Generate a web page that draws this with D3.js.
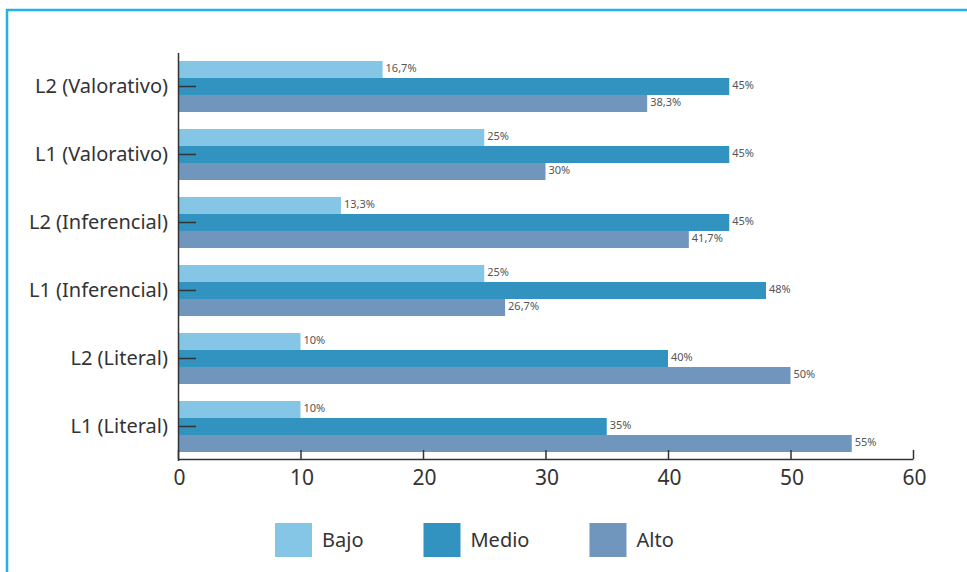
<!DOCTYPE html>
<html>
<head>
<meta charset="utf-8">
<script src="https://cdn.jsdelivr.net/npm/d3@7"></script>
<style>
  body { margin: 0; background: #fff; }
  svg { display: block; font-family: 'Noto Sans', 'Open Sans', sans-serif; }
</style>
</head>
<body>
<div id="chart"></div>
<script>
// data (top group first)
const categories = ['L2 (Valorativo)', 'L1 (Valorativo)', 'L2 (Inferencial)', 'L1 (Inferencial)', 'L2 (Literal)', 'L1 (Literal)']
const seriesNames = ['Bajo', 'Medio', 'Alto']
const bajo = [16.7, 25, 13.3, 25, 10, 10]
const medio = [45, 45, 45, 48, 40, 35]
const alto = [38.3, 30, 41.7, 26.7, 50, 55]
const xTicks = [0, 10, 20, 30, 40, 50, 60]
const colors = ['#85c5e5', '#3393c0', '#7096bd']

const width = 967
const height = 572

const svg = d3
  .select('#chart')
  .append('svg')
  .attr('width', width)
  .attr('height', height)

// light blue frame round the whole thing
svg
  .append('rect')
  .attr('x', 7)
  .attr('y', 10)
  .attr('width', 980)
  .attr('height', 600)
  .attr('fill', 'none')
  .attr('stroke', '#22b1ea')
  .attr('stroke-width', 2.5)

const rows = categories.map((c, i) => ({
  category: c,
  values: [bajo[i], medio[i], alto[i]]
}))

const xPositionScale = d3.scaleLinear().domain([0, 60]).range([178, 913])

const yGroupScale = d3
  .scaleBand()
  .domain(categories)
  .range([52.5, 460.5])
  .paddingInner(0.25)
  .paddingOuter(0.125)

const ySeriesScale = d3
  .scaleBand()
  .domain(seriesNames)
  .range([0, yGroupScale.bandwidth()])

const fmt = v => String(v).replace('.', ',') + '%'

const groups = svg
  .selectAll('.group')
  .data(rows)
  .enter()
  .append('g')
  .attr('class', 'group')
  .attr('transform', d => 'translate(0,' + yGroupScale(d.category) + ')')

groups
  .selectAll('rect')
  .data(d => d.values.map((v, i) => ({ name: seriesNames[i], value: v })))
  .enter()
  .append('rect')
  .attr('x', xPositionScale(0))
  .attr('y', d => ySeriesScale(d.name))
  .attr('width', d => xPositionScale(d.value) - xPositionScale(0))
  .attr('height', ySeriesScale.bandwidth())
  .attr('fill', (d, i) => colors[i])

groups
  .selectAll('.value-label')
  .data(d => d.values.map((v, i) => ({ name: seriesNames[i], value: v })))
  .enter()
  .append('text')
  .attr('class', 'value-label')
  .attr('x', d => xPositionScale(d.value) + 3)
  .attr('y', d => ySeriesScale(d.name) + ySeriesScale.bandwidth() / 2 - 1)
  .attr('dy', '0.35em')
  .attr('font-size', 11)
  .attr('fill', '#555')
  .text(d => fmt(d.value))

// y axis: ticks point right into the bars
const yAxis = d3.axisLeft(yGroupScale).tickSizeInner(-18).tickSizeOuter(0).tickPadding(10)
svg
  .append('g')
  .attr('class', 'axis y-axis')
  .attr('transform', 'translate(' + xPositionScale(0) + ',0)')
  .call(yAxis)

const xAxis = d3.axisBottom(xPositionScale).tickValues(xTicks).tickSizeInner(-9).tickSizeOuter(0).tickPadding(11)
svg
  .append('g')
  .attr('class', 'axis x-axis')
  .attr('transform', 'translate(0,459)')
  .call(xAxis)

// d3 puts sans-serif on the axis group, take it off so Noto Sans is used
svg.selectAll('.axis').attr('font-family', null).attr('font-size', null)
svg.selectAll('.axis path, .axis line').attr('stroke', '#333').attr('stroke-width', 1.5)
svg.selectAll('.y-axis text').attr('font-size', 20).attr('fill', '#333')
svg.selectAll('.x-axis text').attr('font-size', 21).attr('fill', '#333').attr('dx', 1)

// legend
let lx = 275
seriesNames.forEach((name, i) => {
  svg
    .append('rect')
    .attr('x', lx)
    .attr('y', 523)
    .attr('width', 37)
    .attr('height', 34)
    .attr('fill', colors[i])
  const t = svg
    .append('text')
    .attr('x', lx + 47)
    .attr('y', 540)
    .attr('dy', '0.35em')
    .attr('font-size', 20)
    .attr('fill', '#333')
    .text(name)
  lx = lx + 47 + t.node().getComputedTextLength() + 60
})
</script>
</body>
</html>
